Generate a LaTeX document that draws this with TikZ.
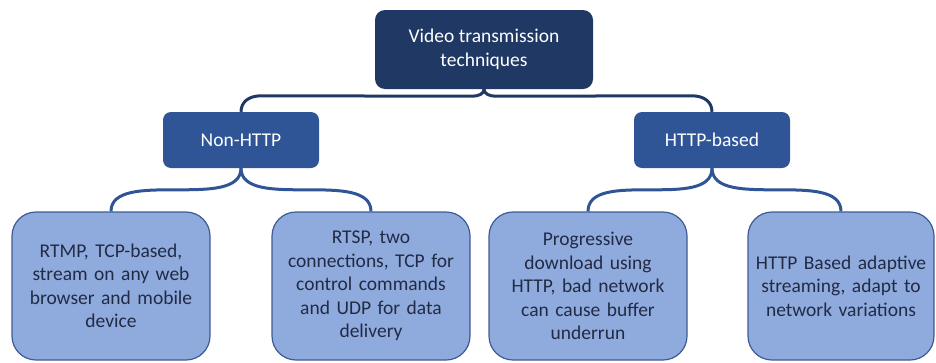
\documentclass[tikz,border=0pt]{standalone}
\usepackage{fontspec}
\setmainfont{Carlito}
\usetikzlibrary{calc}
\definecolor{rootc}{HTML}{203864}
\definecolor{midc}{HTML}{2F5597}
\definecolor{leafc}{HTML}{8FAADC}
\definecolor{leafb}{HTML}{3D5B94}
\definecolor{leaft}{HTML}{222B45}
\begin{document}
\begin{tikzpicture}[x=1pt,y=-1pt,
  txt/.style={inner sep=0pt, align=center, font=\fontsize{19.5}{23.5}\selectfont},
  rootbox/.style={txt, fill=rootc, text=white, rounded corners=10pt, minimum width=218pt, minimum height=79pt},
  midbox/.style={txt, fill=midc, text=white, rounded corners=8pt, minimum width=156pt, minimum height=56pt},
  leafbox/.style={txt, fill=leafc, draw=leafb, line width=1.2pt, text=leaft, rounded corners=24pt, minimum width=198pt, minimum height=148pt, text width=180pt},
  topconn/.style={draw=rootc, line width=3pt},
  lowconn/.style={draw=midc, line width=3pt}]
\useasboundingbox (0,0) rectangle (936,362);
\node[rootbox] (root) at (484,49.5) {Video transmission\\techniques};
\node[midbox] (nh) at (241,140) {Non-HTTP};
\node[midbox] (hb) at (712,140) {HTTP-based};
\node[leafbox] (l1) at (111,286) {RTMP, TCP-based,\\stream on any web\\browser and mobile\\device};
\node[leafbox] (l2) at (371,286) {RTSP, two\\connections, TCP for\\control commands\\and UDP for data\\delivery};
\node[leafbox] (l3) at (588,286) {Progressive\\download using\\HTTP, bad network\\can cause buffer\\underrun};
\node[leafbox, minimum width=186pt] (l4) at (841,286) {HTTP Based adaptive\\streaming, adapt to\\network variations};
\draw[topconn] (root.south) .. controls +(0,5) and +(6,0) .. ($(root.south)+(-12,7)$) -- ($(nh.north)+(20,-16)$) .. controls +(-12,0) and +(0,-10) .. (nh.north);
\draw[topconn] (root.south) .. controls +(0,5) and +(-6,0) .. ($(root.south)+(12,7)$) -- ($(hb.north)+(-20,-16)$) .. controls +(12,0) and +(0,-10) .. (hb.north);
\draw[lowconn] (nh.south) .. controls (nh.south |- l1.north) and (l1.north |- nh.south) .. (l1.north);
\draw[lowconn] (nh.south) .. controls (nh.south |- l2.north) and (l2.north |- nh.south) .. (l2.north);
\draw[lowconn] (hb.south) .. controls (hb.south |- l3.north) and (l3.north |- hb.south) .. (l3.north);
\draw[lowconn] (hb.south) .. controls (hb.south |- l4.north) and (l4.north |- hb.south) .. (l4.north);
\end{tikzpicture}
\end{document}
